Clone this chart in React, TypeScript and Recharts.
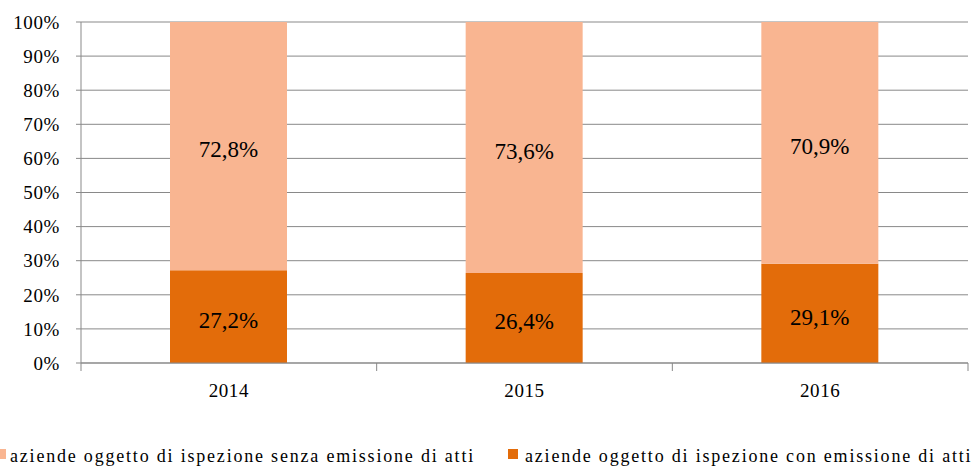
import { BarChart, Bar, XAxis, YAxis, CartesianGrid, LabelList } from "recharts";

// ─── Data ─────────────────────────────────────────────────────────────────────

const YEARS = ["2014", "2015", "2016"];
const SENZA_ATTI = [72.8, 73.6, 70.9];
const CON_ATTI = [27.2, 26.4, 29.1];
const Y_TICKS = [0, 10, 20, 30, 40, 50, 60, 70, 80, 90, 100];

const LEGEND = [
  { key: "senza", label: "aziende oggetto di ispezione senza emissione di atti", color: "#F9B591" },
  { key: "con", label: "aziende oggetto di ispezione con emissione di atti", color: "#E36C0A" },
];

const FONT = "'Liberation Serif', 'Times New Roman', serif";
const GRID = "#898989";

const data = YEARS.map((year, i) => ({ year, con: CON_ATTI[i], senza: SENZA_ATTI[i] }));

const fmtPct = (v: number) => `${v.toFixed(1).replace(".", ",")}%`;

// category label + tick marks on the band edges (Excel style)
function YearTick(props: any) {
  const { x, y, payload, index, visibleTicksCount } = props;
  const half = payload?.offset || 147.8;
  const y0 = y - 21;
  return (
    <g>
      <line x1={x - half} x2={x - half} y1={y0} y2={y0 + 8} stroke={GRID} />
      {index === visibleTicksCount - 1 && (
        <line x1={x + half} x2={x + half} y1={y0} y2={y0 + 8} stroke={GRID} />
      )}
      <text x={x} y={y} dy="0.71em" textAnchor="middle" fill="#000"
        style={{ fontSize: 19, fontFamily: FONT, letterSpacing: 0.6 }}>
        {payload.value}
      </text>
    </g>
  );
}

// ─── Main ─────────────────────────────────────────────────────────────────────

export default function App() {
  const tick = { fill: "#000", fontSize: 19, fontFamily: FONT, letterSpacing: 0.6 };
  const labelStyle = { fill: "#000", fontSize: 23, fontFamily: FONT };
  return (
    <div style={{ position: "absolute", left: 0, top: 0, width: 973, height: 466, background: "#fff", overflow: "hidden", fontFamily: FONT }}>
      <style>{`.recharts-wrapper text { font-family: 'Liberation Serif', 'Times New Roman', serif; }`}</style>
      <BarChart
        width={973}
        height={466}
        data={data}
        margin={{ top: 22, right: 5, left: 0, bottom: 63 }}
      >
        <CartesianGrid vertical={false} stroke={GRID} />
        <XAxis
          dataKey="year"
          axisLine={{ stroke: GRID }}
          tickLine={false}
          tickSize={0}
          tickMargin={21}
          height={40}
          tick={<YearTick />}
          interval={0}
        />
        <YAxis
          domain={[0, 100]}
          ticks={Y_TICKS}
          width={81}
          tickSize={5}
          tickMargin={16}
          stroke={GRID}
          tickFormatter={(v: number) => `${v}%`}
          tick={tick}
          interval={0}
        />
        <Bar dataKey="con" stackId="a" fill="#E36C0A" barSize={117} isAnimationActive={false}>
          <LabelList dataKey="con" position="center" formatter={fmtPct as any} dy={3} style={labelStyle} />
        </Bar>
        <Bar dataKey="senza" stackId="a" fill="#F9B591" barSize={117} isAnimationActive={false}>
          <LabelList dataKey="senza" position="center" formatter={fmtPct as any} dy={3} style={labelStyle} />
        </Bar>
      </BarChart>

      {/* Legend */}
      {LEGEND.map((l, i) => {
        const left = i === 0 ? -4 : 508;
        return (
          <div key={l.key}>
            <span style={{ position: "absolute", left, top: 449, width: 10, height: 10, background: l.color }} />
            <span style={{
              position: "absolute", left: left + 14 + (i === 0 ? 0 : 3), top: 446,
              fontSize: 18, lineHeight: "20px", fontFamily: FONT, letterSpacing: 1.8,
              color: "#000", whiteSpace: "nowrap",
            }}>
              {l.label}
            </span>
          </div>
        );
      })}
    </div>
  );
}
